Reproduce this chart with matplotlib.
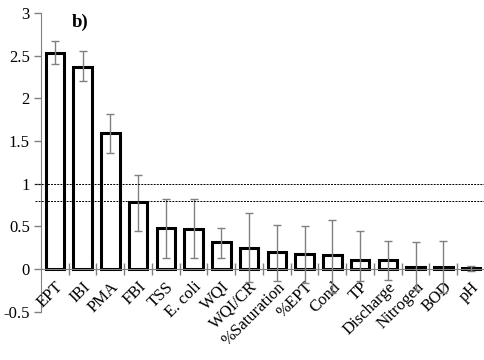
import numpy as np
import matplotlib
matplotlib.use("Agg")
import matplotlib.pyplot as plt
from matplotlib.transforms import ScaledTranslation

categories = ["EPT", "IBI", "PMA", "FBI", "TSS", "E. coli", "WQI", "WQI/CR",
              "%Saturation", "%EPT", "Cond", "TP", "Discharge", "Nitrogen", "BOD", "pH"]
values = [2.53, 2.37, 1.59, 0.78, 0.48, 0.47, 0.32, 0.25,
          0.20, 0.18, 0.16, 0.105, 0.105, 0.03, 0.03, 0.01]
err_top = [2.67, 2.56, 1.82, 1.10, 0.82, 0.82, 0.48, 0.66,
           0.52, 0.51, 0.58, 0.445, 0.325, 0.32, 0.33, 0.04]
err_bottom = [2.40, 2.20, 1.36, 0.45, 0.125, 0.125, 0.13, -0.15,
              -0.14, -0.16, -0.285, -0.14, -0.13, -0.25, -0.28, -0.02]
ref_lines = [1.0, 0.8]
y_ticks = [-0.5, 0, 0.5, 1, 1.5, 2, 2.5, 3]
y_tick_labels = ["-0.5", "0", "0.5", "1", "1.5", "2", "2.5", "3"]

plt.rcParams["font.family"] = ["Liberation Serif", "DejaVu Serif"]

fig = plt.figure(figsize=(4.85, 3.6), dpi=100)
ax = fig.add_axes([0.0845, 0.134, 0.9155, 0.830])

x = np.arange(len(categories))
vals = np.array(values)
lower = vals - np.array(err_bottom)
upper = np.array(err_top) - vals

ax.bar(x, vals, width=0.66, color="white", edgecolor="black", linewidth=2.2, zorder=2)
ax.errorbar(x, vals, yerr=[lower, upper], fmt="none", ecolor="#808080",
            elinewidth=1.0, capsize=3, capthick=1.0, zorder=3)

for y in ref_lines:
    ax.axhline(y, xmin=-0.013, color="black", linestyle=(0, (2, 1.2)),
               linewidth=0.7, zorder=4, clip_on=False)

ax.set_xlim(-0.5, len(categories) - 0.5)
ax.set_ylim(-0.5, 3)
ax.set_yticks(y_ticks)
ax.set_yticklabels(y_tick_labels, fontsize=12)

ax.spines["top"].set_visible(False)
ax.spines["right"].set_visible(False)
ax.spines["bottom"].set_position(("data", 0))
ax.spines["left"].set_color("#808080")
ax.spines["bottom"].set_color("#808080")
ax.spines["left"].set_zorder(1)

ax.set_xticks(x)
ax.set_xticklabels(categories, rotation=45, ha="right", rotation_mode="anchor", fontsize=12)
shift = ScaledTranslation(-6 / 100, 0, fig.dpi_scale_trans)
for label in ax.get_xticklabels():
    label.set_transform(label.get_transform() + shift)
ax.set_xticks(np.arange(0.5, len(categories), 1), minor=True)
ax.tick_params(axis="x", which="major", length=0, pad=7)
ax.tick_params(axis="x", which="minor", direction="inout", length=8, color="#808080", width=1)
ax.tick_params(axis="y", direction="out", length=5, color="#808080", width=1, pad=3)

ax.text(0.9, 2.89, "b)", fontsize=13.5, fontweight="bold", ha="center", va="center")

fig.savefig("out.png", dpi=100)
